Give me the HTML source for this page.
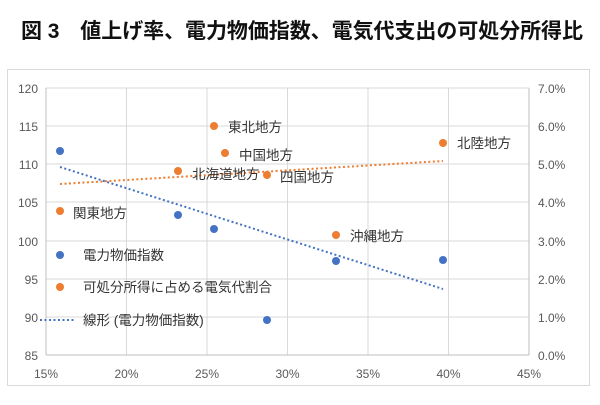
<!DOCTYPE html>
<html><head><meta charset="utf-8"><style>
body{margin:0;background:#fff;width:600px;height:400px;overflow:hidden}
svg text{font-family:"Liberation Sans","Noto Sans CJK JP",sans-serif}
</style></head><body>
<svg width="600" height="400" viewBox="0 0 600 400">
<text x="302" y="38" text-anchor="middle" font-size="21" font-weight="bold" fill="#111" textLength="562" style="font-family:'Liberation Sans','Noto Sans CJK JP',sans-serif">図 3　値上げ率、電力物価指数、電気代支出の可処分所得比</text>
<rect x="7.5" y="69.5" width="582" height="316" fill="none" stroke="#d9d9d9"/>
<g stroke="#d9d9d9" stroke-width="1">
<line x1="46" y1="88" x2="529" y2="88"/><line x1="46" y1="126" x2="529" y2="126"/><line x1="46" y1="164" x2="529" y2="164"/><line x1="46" y1="202" x2="529" y2="202"/><line x1="46" y1="241" x2="529" y2="241"/><line x1="46" y1="279" x2="529" y2="279"/><line x1="46" y1="317" x2="529" y2="317"/>
<line x1="126.5" y1="88" x2="126.5" y2="355"/><line x1="207" y1="88" x2="207" y2="355"/><line x1="287.5" y1="88" x2="287.5" y2="355"/><line x1="368" y1="88" x2="368" y2="355"/><line x1="448.5" y1="88" x2="448.5" y2="355"/>
</g>
<g stroke="#bfbfbf"><line x1="46" y1="88" x2="46" y2="355"/><line x1="529" y1="88" x2="529" y2="355"/><line x1="46" y1="355" x2="529" y2="355"/></g>
<g font-size="12" fill="#595959" text-anchor="end">
<text x="38" y="93">120</text><text x="38" y="131">115</text><text x="38" y="169">110</text><text x="38" y="207">105</text><text x="38" y="246">100</text><text x="38" y="284">95</text><text x="38" y="322">90</text><text x="38" y="360">85</text>
</g>
<g font-size="12" fill="#595959">
<text x="538" y="93">7.0%</text><text x="538" y="131">6.0%</text><text x="538" y="169">5.0%</text><text x="538" y="207">4.0%</text><text x="538" y="246">3.0%</text><text x="538" y="284">2.0%</text><text x="538" y="322">1.0%</text><text x="538" y="360">0.0%</text>
</g>
<g font-size="12" fill="#595959" text-anchor="middle">
<text x="46" y="378">15%</text><text x="126.5" y="378">20%</text><text x="207" y="378">25%</text><text x="287.5" y="378">30%</text><text x="368" y="378">35%</text><text x="448.5" y="378">40%</text><text x="529" y="378">45%</text>
</g>
<line x1="60" y1="167" x2="443" y2="289" stroke="#4472c4" stroke-width="2" stroke-dasharray="2,2.5"/>
<line x1="60" y1="184" x2="443" y2="161" stroke="#ed7d31" stroke-width="2" stroke-dasharray="2,2.5"/>
<g fill="#4472c4">
<circle cx="60" cy="151" r="4"/><circle cx="178" cy="215" r="4"/><circle cx="214" cy="229" r="4"/><circle cx="267" cy="320" r="4"/><circle cx="336" cy="261" r="4"/><circle cx="443" cy="260" r="4"/><circle cx="60" cy="255" r="4"/>
</g>
<g fill="#ed7d31">
<circle cx="60" cy="211" r="4"/><circle cx="178" cy="171" r="4"/><circle cx="214" cy="126" r="4"/><circle cx="225" cy="153" r="4"/><circle cx="267" cy="175" r="4"/><circle cx="336" cy="235" r="4"/><circle cx="443" cy="143" r="4"/><circle cx="60" cy="287" r="4"/>
</g>
<line x1="40" y1="320" x2="76" y2="320" stroke="#4472c4" stroke-width="2" stroke-dasharray="2,2.5"/>
<g font-size="13.5" fill="#333">
<text x="228" y="132">東北地方</text><text x="239" y="160">中国地方</text><text x="192" y="179">北海道地方</text><text x="280" y="182">四国地方</text><text x="73" y="218">関東地方</text><text x="350" y="241">沖縄地方</text><text x="457" y="148">北陸地方</text>
<text x="83" y="260">電力物価指数</text><text x="83" y="292">可処分所得に占める電気代割合</text><text x="83" y="325">線形 (電力物価指数)</text>
</g>
</svg>
</body></html>
